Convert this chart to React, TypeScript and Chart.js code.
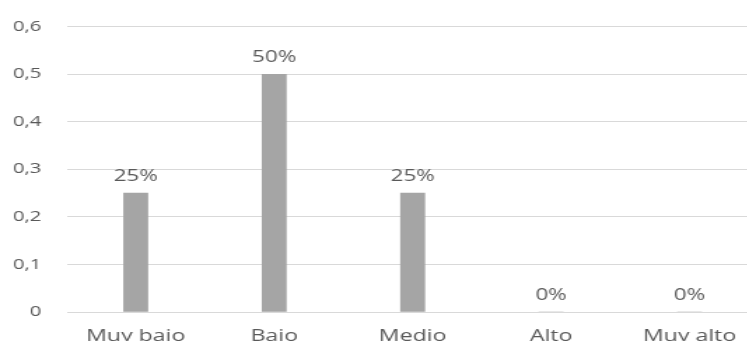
import React, { useEffect, useRef } from "react";
import { Chart, registerables } from "chart.js";

Chart.register(...registerables);

const categories = ["Muy bajo", "Bajo", "Medio", "Alto", "Muy alto"];
const values = [0.25, 0.5, 0.25, 0, 0];
const dataLabels = ["25%", "50%", "25%", "0%", "0%"];
const yTicks = [0, 0.1, 0.2, 0.3, 0.4, 0.5, 0.6];

const STRETCH = 1.4;
const CANVAS_W = 546;
const CANVAS_H = 341;
const FONT = "'Open Sans', Lato, sans-serif";
const TEXT = "#595959";

const labelPlugin = {
  id: "barLabels",
  afterDatasetsDraw(chart: any) {
    const ctx = chart.ctx;
    const meta = chart.getDatasetMeta(0);
    ctx.save();
    ctx.fillStyle = TEXT;
    ctx.font = `16px ${FONT}`;
    ctx.textAlign = "center";
    ctx.textBaseline = "alphabetic";
    meta.data.forEach((bar: any, i: number) => {
      ctx.fillText(dataLabels[i], bar.x, bar.y - 12);
    });
    ctx.restore();
  },
};

export default function App() {
  const ref = useRef<HTMLCanvasElement>(null);
  useEffect(() => {
    if (!ref.current) return;
    const chart = new Chart(ref.current, {
      type: "bar",
      data: {
        labels: categories,
        datasets: [
          {
            data: values,
            backgroundColor: "#a5a5a5",
            barThickness: 24 / STRETCH,
          },
        ],
      },
      options: {
        responsive: false,
        animation: false,
        devicePixelRatio: 1,
        layout: { padding: { top: 24, right: 4, left: 0, bottom: 0 } },
        plugins: { legend: { display: false }, tooltip: { enabled: false } },
        scales: {
          x: {
            grid: { display: false },
            border: { display: false },
            ticks: {
              color: TEXT,
              font: { family: FONT, size: 16.5 },
              padding: 6,
              maxRotation: 0,
            },
            afterFit(scale: any) {
              scale.height = 29;
            },
          },
          y: {
            min: 0,
            max: 0.6,
            afterBuildTicks(scale: any) {
              scale.ticks = yTicks.map((v) => ({ value: v }));
            },
            grid: { color: "#d9d9d9", drawTicks: false, lineWidth: 1 },
            border: { display: false },
            ticks: {
              color: TEXT,
              font: { family: FONT, size: 14.5 },
              padding: 18,
              callback: (v: any) =>
                Number(v) === 0 ? "0" : Number(v).toFixed(1).replace(".", ","),
            },
            afterFit(scale: any) {
              scale.width = 66.5 / STRETCH;
            },
          },
        },
      },
      plugins: [labelPlugin],
    });
    return () => chart.destroy();
  }, []);

  return (
    <div
      style={{
        position: "fixed",
        left: 0,
        top: 0,
        width: 747,
        height: 341,
        overflow: "hidden",
        background: "#fff",
      }}
    >
      <div
        style={{
          width: CANVAS_W,
          height: CANVAS_H,
          transform: `scaleX(${STRETCH})`,
          transformOrigin: "0 0",
        }}
      >
        <canvas ref={ref} width={CANVAS_W} height={CANVAS_H} />
      </div>
    </div>
  );
}
